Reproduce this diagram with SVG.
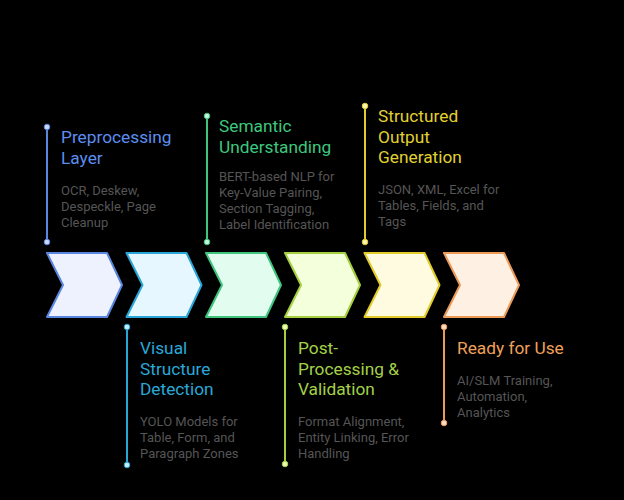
<svg xmlns="http://www.w3.org/2000/svg" width="624" height="500" viewBox="0 0 624 500">
<style>
.t{font-family:Roboto,"Liberation Sans",sans-serif;font-size:17.3px}
.d{font-family:Roboto,"Liberation Sans",sans-serif;font-size:13px;fill:#555}
.ch{stroke-width:2;stroke-linejoin:round}
.ln{stroke-width:2}
</style>
<defs>
<path id="chev" d="M0,0 L60,0 L75,32 L60,64 L0,64 L16,32 Z"/>
</defs>
<rect width="624" height="500" fill="#000"/>
<g id="connectors">
<line class="ln" x1="47" y1="127" x2="47" y2="242" stroke="#5b86e0"/>
<circle cx="47" cy="127" r="2.8" fill="#c9d8ff" stroke="#5b86e0"/>
<circle cx="47" cy="242" r="2.8" fill="#c9d8ff" stroke="#5b86e0"/>
<line class="ln" x1="207" y1="116" x2="207" y2="242" stroke="#3ec47c"/>
<circle cx="207" cy="116" r="2.8" fill="#c4f5da" stroke="#3ec47c"/>
<circle cx="207" cy="242" r="2.8" fill="#c4f5da" stroke="#3ec47c"/>
<line class="ln" x1="365" y1="106" x2="365" y2="242" stroke="#e2cc2a"/>
<circle cx="365" cy="106" r="2.8" fill="#fff4b0" stroke="#e2cc2a"/>
<circle cx="365" cy="242" r="2.8" fill="#fff4b0" stroke="#e2cc2a"/>
<line class="ln" x1="127" y1="327" x2="127" y2="465" stroke="#2aa6d6"/>
<circle cx="127" cy="327" r="2.8" fill="#c4ecff" stroke="#2aa6d6"/>
<circle cx="127" cy="465" r="2.8" fill="#c4ecff" stroke="#2aa6d6"/>
<line class="ln" x1="285" y1="327" x2="285" y2="464" stroke="#a4cf3e"/>
<circle cx="285" cy="327" r="2.8" fill="#eaffb8" stroke="#a4cf3e"/>
<circle cx="285" cy="464" r="2.8" fill="#eaffb8" stroke="#a4cf3e"/>
<line class="ln" x1="444" y1="327" x2="444" y2="423" stroke="#ec9a58"/>
<circle cx="444" cy="327" r="2.8" fill="#ffdcc0" stroke="#ec9a58"/>
<circle cx="444" cy="423" r="2.8" fill="#ffdcc0" stroke="#ec9a58"/>
</g>
<g id="chevrons">
<use href="#chev" class="ch" x="47" y="253" fill="#eef2ff" stroke="#5b86e0"/>
<use href="#chev" class="ch" x="126.5" y="253" fill="#e6f7ff" stroke="#2aa6d6"/>
<use href="#chev" class="ch" x="206" y="253" fill="#e2fdf0" stroke="#3ec47c"/>
<use href="#chev" class="ch" x="285" y="253" fill="#f4ffdc" stroke="#a4cf3e"/>
<use href="#chev" class="ch" x="364.5" y="253" fill="#fffbe0" stroke="#e2cc2a"/>
<use href="#chev" class="ch" x="444" y="253" fill="#fff0e4" stroke="#ec9a58"/>
</g>
<g id="preprocessing">
<text class="t" fill="#5b8ef0"><tspan x="61" y="143">Preprocessing</tspan><tspan x="61" y="163.5">Layer</tspan></text>
<text class="d"><tspan x="61" y="195">OCR, Deskew,</tspan><tspan x="61" y="211">Despeckle, Page</tspan><tspan x="61" y="227">Cleanup</tspan></text>
</g>
<g id="semantic">
<text class="t" fill="#3ec77e"><tspan x="219" y="132">Semantic</tspan><tspan x="219" y="152.5">Understanding</tspan></text>
<text class="d"><tspan x="219" y="181">BERT-based NLP for</tspan><tspan x="219" y="197">Key-Value Pairing,</tspan><tspan x="219" y="213">Section Tagging,</tspan><tspan x="219" y="229">Label Identification</tspan></text>
</g>
<g id="structured">
<text class="t" fill="#e0d030"><tspan x="378" y="122">Structured</tspan><tspan x="378" y="142.5">Output</tspan><tspan x="378" y="163">Generation</tspan></text>
<text class="d"><tspan x="378" y="194">JSON, XML, Excel for</tspan><tspan x="378" y="210">Tables, Fields, and</tspan><tspan x="378" y="226">Tags</tspan></text>
</g>
<g id="visual">
<text class="t" fill="#2aa8d8"><tspan x="140" y="354">Visual</tspan><tspan x="140" y="374.5">Structure</tspan><tspan x="140" y="395">Detection</tspan></text>
<text class="d"><tspan x="140" y="426">YOLO Models for</tspan><tspan x="140" y="442">Table, Form, and</tspan><tspan x="140" y="458">Paragraph Zones</tspan></text>
</g>
<g id="post">
<text class="t" fill="#a3d147"><tspan x="298" y="354">Post-</tspan><tspan x="298" y="374.5">Processing &amp;</tspan><tspan x="298" y="395">Validation</tspan></text>
<text class="d"><tspan x="298" y="426">Format Alignment,</tspan><tspan x="298" y="442">Entity Linking, Error</tspan><tspan x="298" y="458">Handling</tspan></text>
</g>
<g id="ready">
<text class="t" fill="#f0a05a"><tspan x="457" y="354">Ready for Use</tspan></text>
<text class="d"><tspan x="457" y="385">AI/SLM Training,</tspan><tspan x="457" y="401">Automation,</tspan><tspan x="457" y="417">Analytics</tspan></text>
</g>
</svg>
